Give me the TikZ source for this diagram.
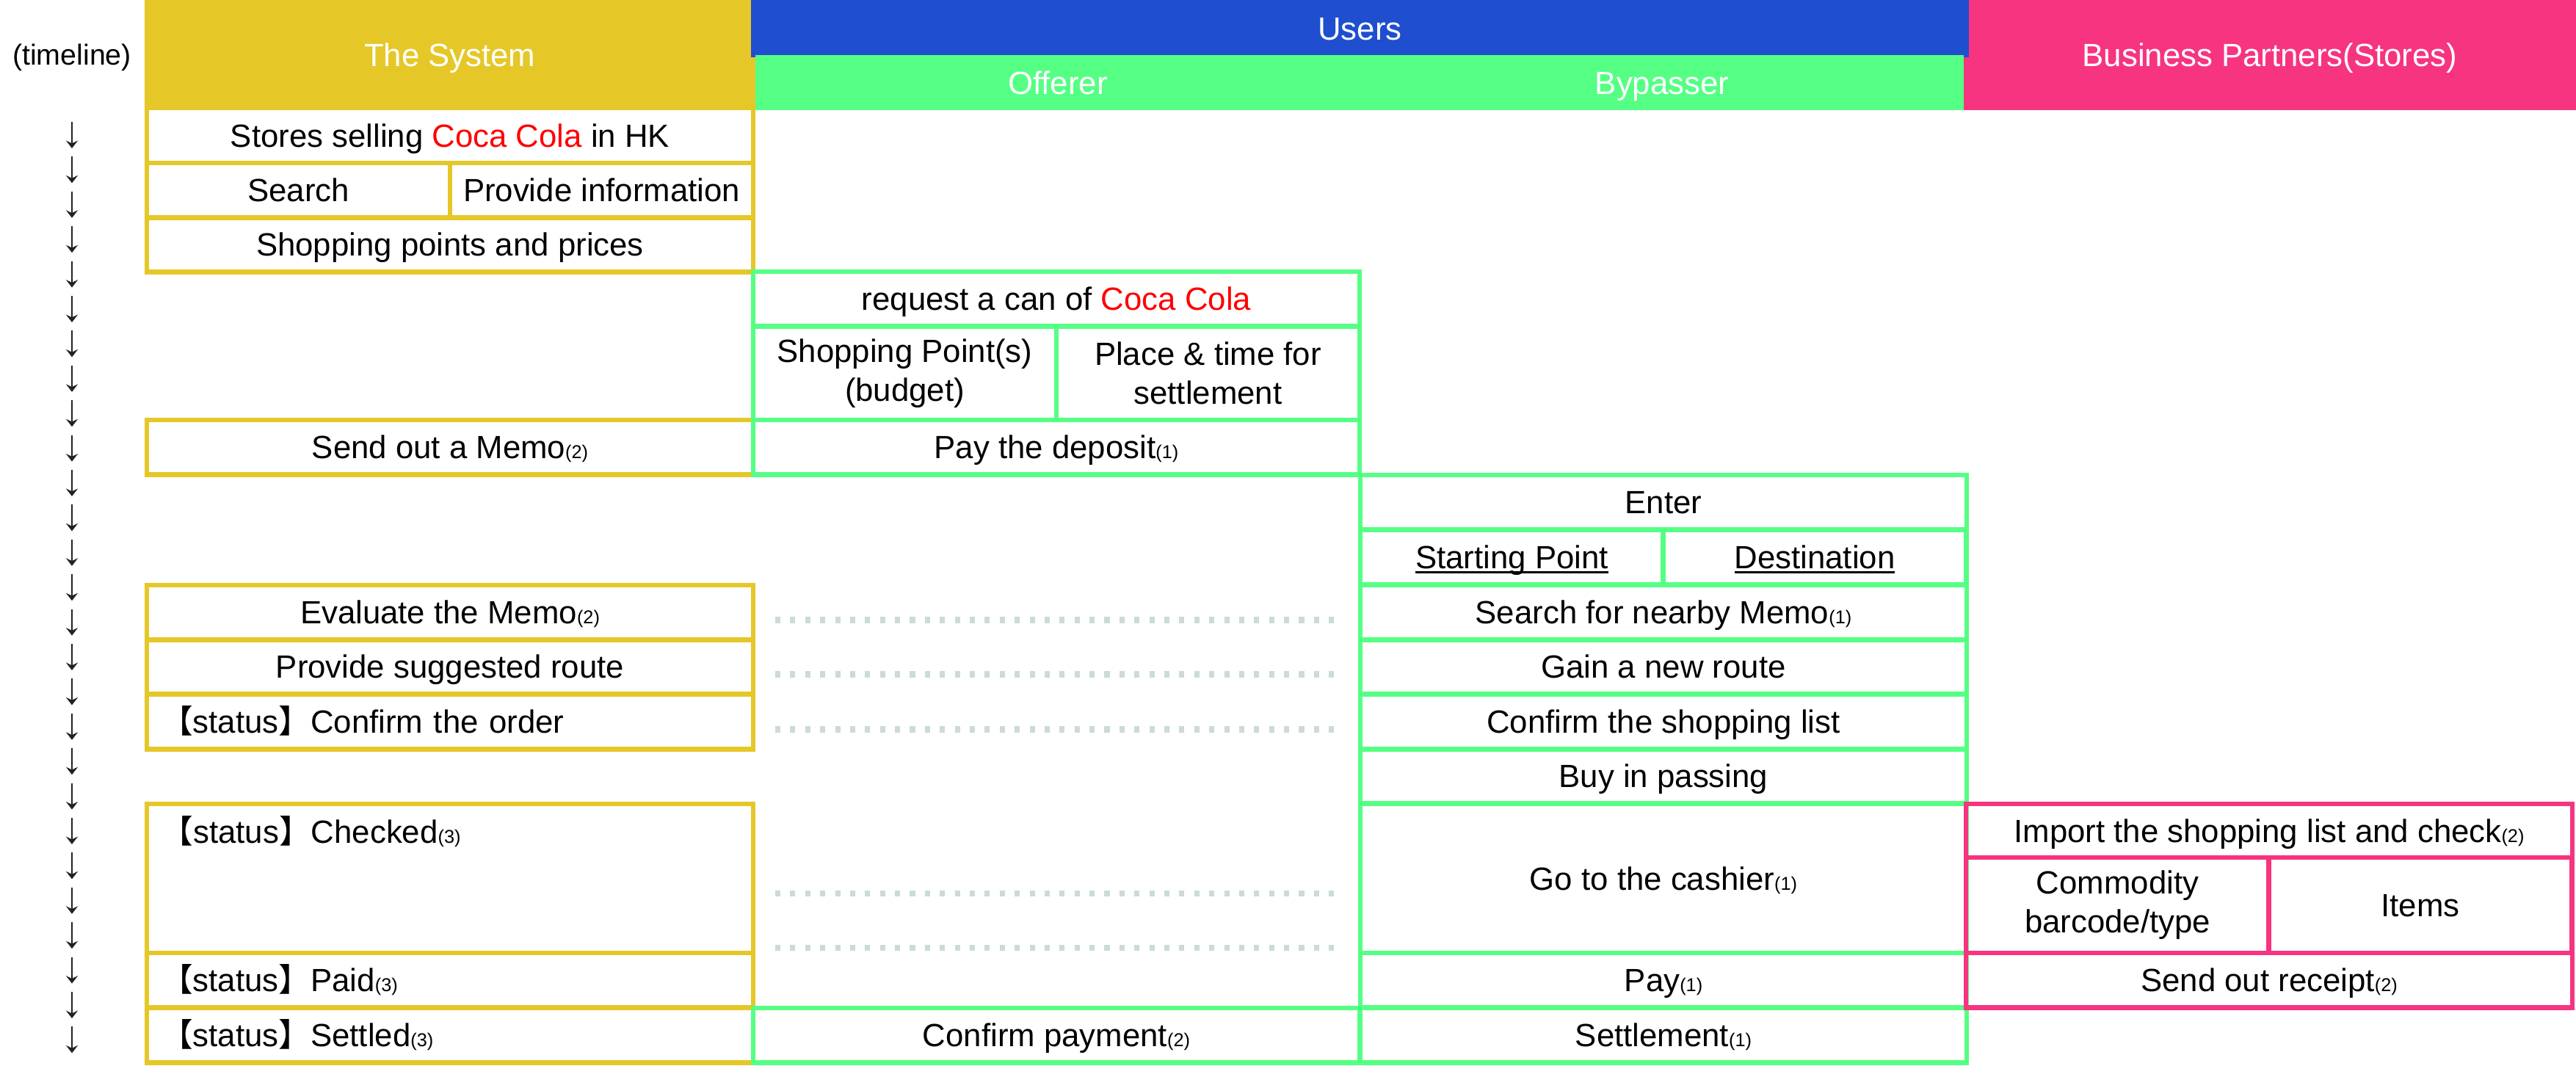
\documentclass[tikz,border=0pt]{standalone}
\usepackage{fontspec}
\setmainfont{Liberation Sans}
\newfontfamily\cjkfont{Noto Sans CJK SC}
\usetikzlibrary{arrows.meta,positioning}
\definecolor{sysyellow}{HTML}{E5C728}
\definecolor{userblue}{HTML}{1F4FCF}
\definecolor{usergreen}{HTML}{55FF84}
\definecolor{bizpink}{HTML}{F6347F}
\definecolor{cocared}{HTML}{FF0000}
\definecolor{dotgray}{HTML}{CDDAD8}
\definecolor{tlgray}{HTML}{222222}
\newcommand{\bodyfont}{\fontsize{12.45}{15.1}\selectfont}
\newcommand{\nb}[1]{{\fontsize{7.2}{8}\selectfont(#1)}}
\newcommand{\st}{{\cjkfont 【}status{\cjkfont 】}}
\newcommand{\coke}{\textcolor{cocared}{Coca Cola}}
\newlength{\ulwd}
\newcommand{\undl}[1]{\settowidth{\ulwd}{#1}#1\llap{\rule[-1.7pt]{\ulwd}{0.75pt}}}

\begin{document}
\begin{tikzpicture}[
    cell/.style={rectangle, line width=1.9pt, outer sep=0pt, inner sep=0pt, anchor=north west, font=\bodyfont},
    one/.style={text height=8.9pt, text depth=0pt},
    sys/.style={cell, one, draw=sysyellow},
    usr/.style={cell, one, draw=usergreen},
    usrtwo/.style={cell, draw=usergreen, align=center},
    biz/.style={cell, one, draw=bizpink},
    biztwo/.style={cell, draw=bizpink, align=center},
    full/.style={minimum width=8.26cm},
    half/.style={minimum width=4.13cm},
    row/.style={minimum height=0.745cm},
    lft/.style={text width=7.88cm, inner xsep=0.19cm, align=left},
    hd/.style={rectangle, inner sep=0pt, outer sep=0pt, anchor=north west, text=white, font=\bodyfont, one},
    dotln/.style={draw=dotgray, line width=2.5pt, dash pattern=on 2pt off 3.8pt},
    tick/.style={draw=tlgray, line width=0.75pt, -{Stealth[length=3pt, width=4.6pt, inset=1.1pt]}}
  ]
  \useasboundingbox (0,0) rectangle (35.09,-14.51);

  % headers
  \node[hd, fill=bizpink, minimum width=8.34cm, minimum height=1.5cm] (bizHd) at (26.75,0) {Business Partners(Stores)};
  \node[hd, fill=sysyellow, minimum width=8.325cm, minimum height=1.5cm] (sysHd) at (1.965,0) {The System};
  \node[hd, fill=userblue, minimum width=16.59cm, minimum height=0.777cm] (usrHd) at (10.23,0) {Users};
  \node[hd, fill=usergreen, minimum width=8.24cm, minimum height=0.75cm] (offHd) at (10.29,-0.75) {Offerer};
  \node[hd, fill=usergreen, minimum width=8.22cm, minimum height=0.75cm] (bypHd) at (18.53,-0.75) {Bypasser};
  \node[inner sep=0pt, font=\fontsize{11.2}{13}\selectfont] (tlHd) at (0.98,-0.785) {(timeline)};

  % the system
  \node[sys, full, minimum height=0.75cm] (stores) at (2.00,-1.47) {Stores selling \coke{} in HK};
  \node[sys, half, row] (search) at (2.00,-2.22) {Search};
  \node[sys, half, row] (provide) at (6.13,-2.22) {Provide information};
  \node[sys, full, row] (points) at (2.00,-2.96) {Shopping points and prices};
  \node[sys, full, row] (memo) at (2.00,-5.72) {Send out a Memo\nb{2}};
  \node[sys, full, row] (evaluate) at (2.00,-7.97) {Evaluate the Memo\nb{2}};
  \node[sys, full, row] (route) at (2.00,-8.71) {Provide suggested route};
  \node[sys, full, row, lft] (confirm) at (2.00,-9.46) {\st Confirm the order};
  \node[sys, full, minimum height=2.03cm] (checked) at (2.00,-10.95) {};
  \node[inner sep=0pt, anchor=west, font=\bodyfont, one] (chktxt) at ([xshift=0.19cm,yshift=-0.375cm]checked.north west) {\st Checked\nb{3}};
  \node[sys, full, row, lft] (paid) at (2.00,-12.98) {\st Paid\nb{3}};
  \node[sys, full, row, lft] (settled) at (2.00,-13.73) {\st Settled\nb{3}};

  % offerer
  \node[usr, full, row] (request) at (10.26,-3.70) {request a can of \coke};
  \node[usrtwo, half, minimum height=1.27cm] (budget) at (10.26,-4.45) {Shopping Point(s)\\(budget)};
  \node[usrtwo, half, minimum height=1.27cm] (place) at (14.39,-4.45) {Place \& time for\\settlement};
  \node[usr, full, row] (deposit) at (10.26,-5.72) {Pay the deposit\nb{1}};
  \node[usr, full, row] (paycfm) at (10.26,-13.73) {Confirm payment\nb{2}};

  % bypasser
  \node[usr, full, row] (enter) at (18.53,-6.47) {Enter};
  \node[usr, half, row] (start) at (18.53,-7.22) {\undl{Starting Point}};
  \node[usr, half, row] (dest) at (22.655,-7.22) {\undl{Destination}};
  \node[usr, full, row] (nearby) at (18.53,-7.97) {Search for nearby Memo\nb{1}};
  \node[usr, full, row] (newroute) at (18.53,-8.71) {Gain a new route};
  \node[usr, full, row] (shoplist) at (18.53,-9.46) {Confirm the shopping list};
  \node[usr, full, row] (passing) at (18.53,-10.20) {Buy in passing};
  \node[usr, full, minimum height=2.03cm] (cashier) at (18.53,-10.95) {Go to the cashier\nb{1}};
  \node[usr, full, row] (pay) at (18.53,-12.98) {Pay\nb{1}};
  \node[usr, full, row] (settle) at (18.53,-13.73) {Settlement\nb{1}};

  % dotted links
  \draw[dotln] ([xshift=0.30cm,yshift=-0.10cm]evaluate.east) -- ([xshift=-0.31cm,yshift=-0.10cm]nearby.west);
  \draw[dotln] ([xshift=0.30cm,yshift=-0.10cm]route.east) -- ([xshift=-0.31cm,yshift=-0.10cm]newroute.west);
  \draw[dotln] ([xshift=0.30cm,yshift=-0.10cm]confirm.east) -- ([xshift=-0.31cm,yshift=-0.10cm]shoplist.west);
  \draw[dotln] ([xshift=0.30cm,yshift=-1.22cm]checked.north east) -- ([xshift=-0.31cm,yshift=-1.22cm]cashier.north west);
  \draw[dotln] ([xshift=0.30cm,yshift=-1.96cm]checked.north east) -- ([xshift=-0.31cm,yshift=-1.96cm]cashier.north west);

  % business partners
  \node[biz, full, minimum height=0.73cm] (import) at (26.78,-10.95) {Import the shopping list and check\nb{2}};
  \node[biztwo, half, minimum height=1.30cm] (barcode) at (26.78,-11.68) {Commodity\\barcode/type};
  \node[biz, half, minimum height=1.30cm] (items) at (30.905,-11.68) {Items};
  \node[biz, full, row] (receipt) at (26.78,-12.98) {Send out receipt\nb{2}};

  % timeline
  \foreach \i in {0,...,26}
    \draw[tick] (0.98,{-1.66-0.474*\i}) -- ++(0,-0.36);
\end{tikzpicture}
\end{document}
